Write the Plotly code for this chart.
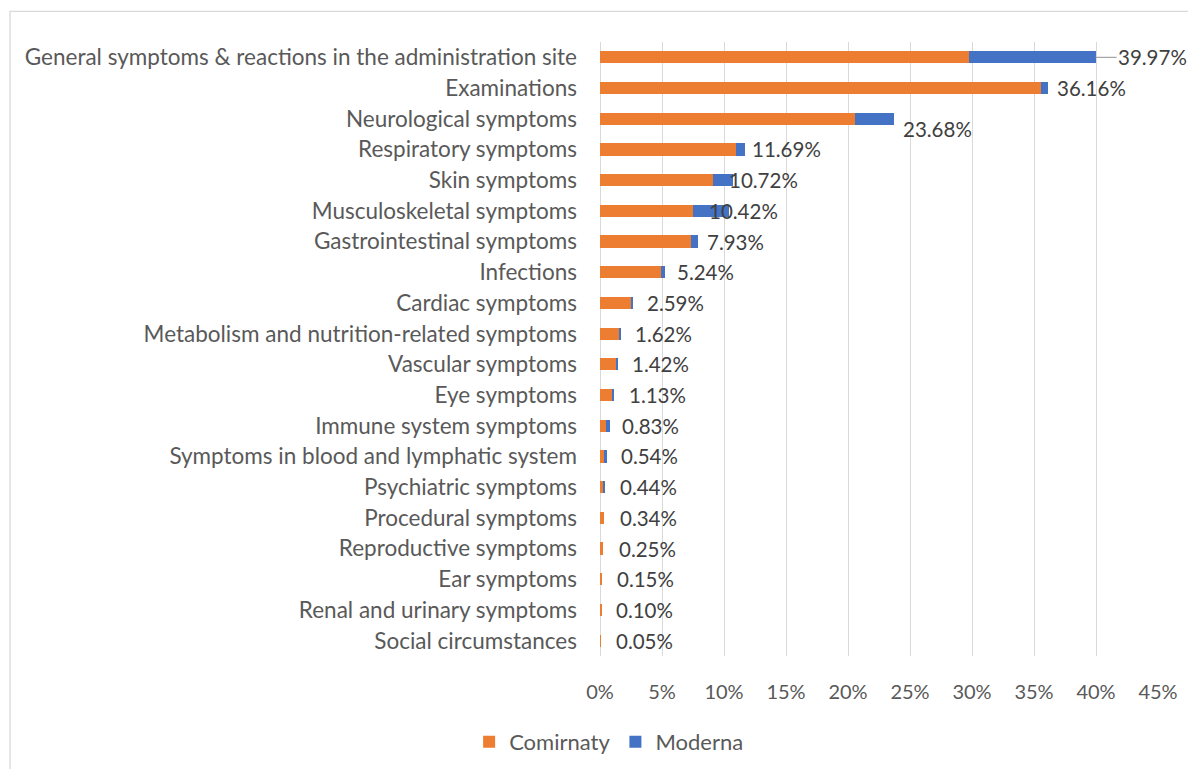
import plotly.graph_objects as go

categories = [
    "General symptoms & reactions in the administration site",
    "Examinations",
    "Neurological symptoms",
    "Respiratory symptoms",
    "Skin symptoms",
    "Musculoskeletal symptoms",
    "Gastrointestinal symptoms",
    "Infections",
    "Cardiac symptoms",
    "Metabolism and nutrition-related symptoms",
    "Vascular symptoms",
    "Eye symptoms",
    "Immune system symptoms",
    "Symptoms in blood and lymphatic system",
    "Psychiatric symptoms",
    "Procedural symptoms",
    "Reproductive symptoms",
    "Ear symptoms",
    "Renal and urinary symptoms",
    "Social circumstances",
]
comirnaty = [29.75, 35.55, 20.57, 10.96, 9.14, 7.47, 7.34, 4.95, 2.57, 1.60,
             1.25, 0.98, 0.50, 0.36, 0.32, 0.34, 0.25, 0.15, 0.10, 0.05]
moderna = [10.22, 0.61, 3.11, 0.73, 1.58, 2.95, 0.59, 0.29, 0.02, 0.02,
           0.17, 0.15, 0.33, 0.18, 0.12, 0.00, 0.00, 0.00, 0.00, 0.00]
totals = [39.97, 36.16, 23.68, 11.69, 10.72, 10.42, 7.93, 5.24, 2.59, 1.62,
          1.42, 1.13, 0.83, 0.54, 0.44, 0.34, 0.25, 0.15, 0.10, 0.05]
x_ticks = [0, 5, 10, 15, 20, 25, 30, 35, 40, 45]

# label placement offsets (pixels) mimicking the original layout
label_xshift = [0, 7, 7.5, 5, -5.5, -22, 7, 10.5, 13, 13, 12, 12.5, 10, 12, 12.5, 14, 13.5, 13.5, 13, 13]
label_yshift = [0, 0, -10, 0, 0, 0, 0, 0, 0, 0, 0, 0, 0, 0, 0, 0, 0, 0, 0, 0]

FONT = "Lato"
TXT = 22.5
NUM = 20.5
ORANGE = "#ED7D31"
BLUE = "#4472C4"

fig = go.Figure()
fig.add_trace(go.Bar(y=categories, x=comirnaty, name="Comirnaty", orientation="h",
                     marker=dict(color=ORANGE, line=dict(width=0))))
fig.add_trace(go.Bar(y=categories, x=moderna, name="Moderna", orientation="h",
                     marker=dict(color=BLUE, line=dict(width=0))))

for i, (c, t) in enumerate(zip(categories, totals)):
    if i == 0:
        fig.add_annotation(x=t, y=c, text=f"{t:.2f}%", showarrow=True, arrowhead=0,
                           arrowwidth=1.3, arrowcolor="#a6a6a6", ax=57, ay=0, standoff=0,
                           font=dict(family=FONT, size=NUM, color="#404040"))
    else:
        fig.add_annotation(x=t, y=c, text=f"{t:.2f}%", showarrow=False, xanchor="left",
                           xshift=label_xshift[i], yshift=label_yshift[i],
                           font=dict(family=FONT, size=NUM, color="#404040"))

# page has an 8px body margin; figure coordinates = page coordinates - 8
OFF = 8
FW, FH = 1196 - OFF, 769 - OFF
L = 599.5 - OFF
T = 41.6 - OFF
R = 1196 - 1158
B = 769 - 656.4
W = FW - L - R
H = FH - T - B

def px_x(p):
    return (p - OFF - L) / W

def px_y(p):
    return (FH - B - (p - OFF)) / H

fig.add_shape(type="rect", xref="paper", yref="paper",
              x0=px_x(OFF + 1), x1=px_x(1215), y0=px_y(800), y1=px_y(11),
              line=dict(color="#d9d9d9", width=1.3), fillcolor="rgba(0,0,0,0)", layer="below")

fig.update_layout(
    width=FW, height=FH,
    barmode="stack", bargap=0.6,
    plot_bgcolor="white", paper_bgcolor="white",
    margin=dict(l=L, r=R, t=T, b=B, pad=0),
    font=dict(family=FONT, size=TXT, color="#595959"),
    xaxis=dict(range=[0, 45], tickvals=x_ticks, ticktext=[f"{v}%" for v in x_ticks],
               showgrid=True, gridcolor="#d9d9d9", gridwidth=1.3, zeroline=True,
               zerolinecolor="#d9d9d9", zerolinewidth=1.3, showline=False,
               ticks="", ticklabelstandoff=22, fixedrange=True,
               tickfont=dict(family=FONT, size=20, color="#595959")),
    yaxis=dict(autorange="reversed", showgrid=False, showline=False, ticks="",
               ticklabelstandoff=22, tickfont=dict(family=FONT, size=TXT, color="#595959")),
    legend=dict(orientation="h", xref="container", yref="container", x=0.506, y=27 / FH,
                xanchor="center", yanchor="middle",
                font=dict(family=FONT, size=22, color="#595959"),
                traceorder="normal", itemwidth=30),
    showlegend=True,
)

fig.write_html("out.html")
